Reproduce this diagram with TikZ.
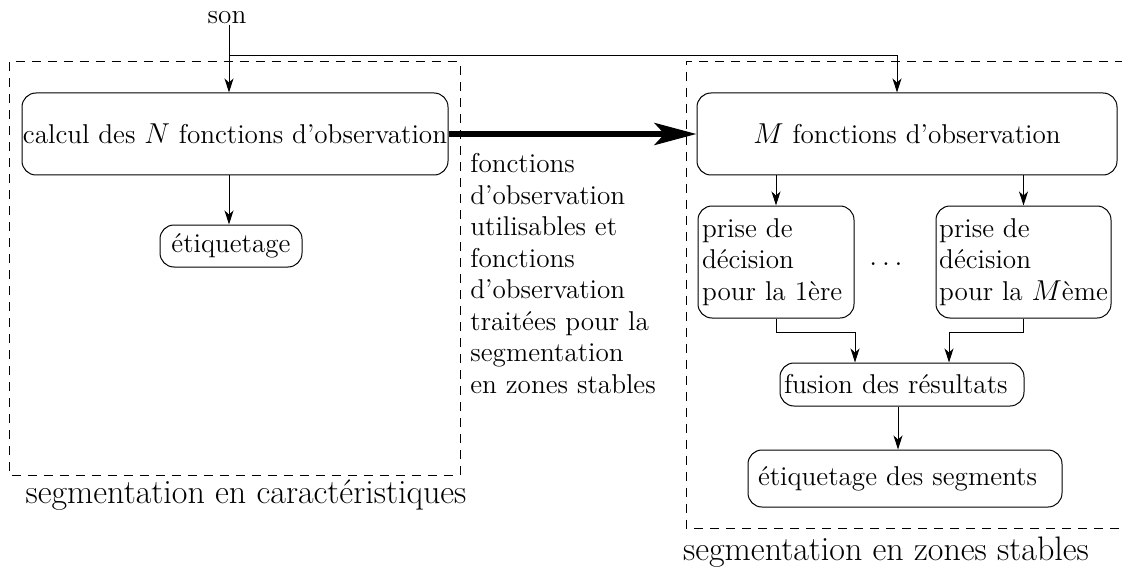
\documentclass[tikz,border=0pt]{standalone}
\usetikzlibrary{arrows.meta,calc}
\begin{document}
\begin{tikzpicture}[x=0.5pt,y=-0.5pt,
  font=\fontsize{13.6}{15.75}\selectfont,
  box/.style={draw,rounded corners=7pt,inner sep=0pt,line width=0.5pt},
  frame/.style={draw,line width=0.5pt,dash pattern=on 4.5pt off 3.5pt},
  arr/.style={line width=0.5pt,-{Stealth[length=7pt,width=4.5pt,inset=2pt]}},
  bigarr/.style={line width=2.9pt,-{Stealth[length=21pt,width=11pt,inset=5pt]}},
  lbl/.style={inner sep=0pt},
  biglbl/.style={inner sep=0pt,font=\fontsize{17}{20}\selectfont}
]
\useasboundingbox (0,0) rectangle (1122,577);
% frames
\draw[frame] (9,62) rectangle (460,475);
\draw[frame] (1140,62) -- (686,62) -- (686,528) -- (1140,528);
% nodes
\node[lbl] (son) at (227,18) {son};
\node[box,minimum width=213pt,minimum height=41pt] (calc) at (235,134) {calcul des $N$ fonctions d'observation};
\node[box,minimum width=71pt,minimum height=21pt] (et1) at (231,246) {étiquetage};
\node[box,minimum width=210pt,minimum height=41pt] (mbox) at (907,134) {$M$ fonctions d'observation};
\node[box,minimum width=78pt,minimum height=56pt,text width=74pt,align=left] (dec1) at (776,262) {prise de\\décision\\pour la 1ère};
\node[box,minimum width=87.5pt,minimum height=56pt,align=left] (dec2) at (1023.5,262) {prise de\\décision\\pour la $M$ème};
\node[lbl] (dots) at (886,264) {$\ldots$};
\node[box,minimum width=122pt,minimum height=21.5pt,text width=118pt,align=left] (fus) at (902,384.5) {fusion des résultats};
\node[box,minimum width=157pt,minimum height=28.5pt,text width=147pt,align=left] (seg) at (905,478.5) {étiquetage des segments};
\node[lbl,anchor=north west,align=left] (txt) at (470,153) {fonctions\\d'observation\\utilisables et\\fonctions\\d'observation\\traitées pour la\\segmentation\\en zones stables};
\node[biglbl] (lab1) at (246,495) {segmentation en caractéristiques};
\node[biglbl] (lab2) at (886,552) {segmentation en zones stables};
% connectors
\coordinate (br) at (229,56);
\coordinate (brr) at (897,56);
\draw[arr] (br |- son.south) -- (calc.north -| br);
\draw[arr] (br) -- (brr) -- (mbox.north -| brr);
\draw[arr] (calc.south -| br) -- (et1.north -| br);
\draw[bigarr] (calc.east) -- (mbox.west);
\draw[arr] (mbox.south -| dec1.north) -- (dec1.north);
\draw[arr] (mbox.south -| dec2.north) -- (dec2.north);
\coordinate (f1) at (855,332);
\coordinate (f2) at (949,332);
\draw[arr] (dec1.south) |- (f1) -- (fus.north -| f1);
\draw[arr] (dec2.south) |- (f2) -- (fus.north -| f2);
\draw[arr] (fus.south -| 898,0) -- (seg.north -| 898,0);
\end{tikzpicture}
\end{document}
